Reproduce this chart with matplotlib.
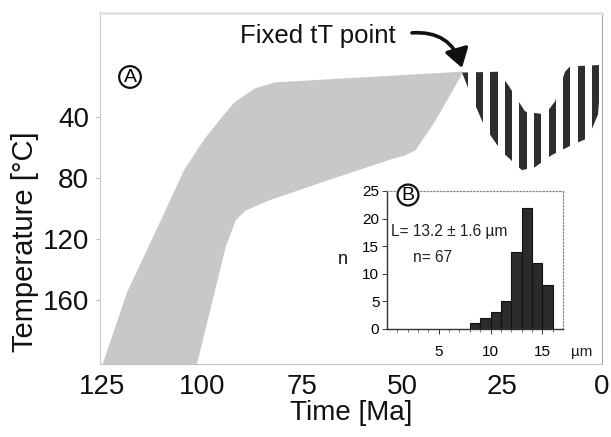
import numpy as np
import matplotlib
matplotlib.use("Agg")
import matplotlib.pyplot as plt
from matplotlib.patches import Polygon, FancyArrowPatch

# time-temperature envelope (good fits), Ma / degC
env_upper_time = [125, 118.5, 110, 104.25, 99.25, 95, 91.75, 86.75, 81.75, 35]
env_upper_temp = [205, 155, 107.5, 75, 55, 41, 31, 22, 18, 11]
env_lower_time = [35, 41.75, 46.75, 49.5, 51.75, 68.5, 83.5, 89.25, 91.75, 94.25, 101.75]
env_lower_temp = [11, 42, 61.5, 65, 66.5, 81, 94.5, 101, 107.5, 125, 205]

# post fixed point envelope (striped)
rec_upper_time = [35, 26, 23.5, 19.25, 14.25, 11.75, 9.25, 8, 0]
rec_upper_temp = [11, 10.5, 19, 36.5, 38.5, 30, 10.5, 7, 6]
rec_lower_time = [35, 32.5, 29.25, 25, 20, 16.75, 12.5, 7.5, 3.5, 1, 0]
rec_lower_temp = [11, 27.5, 47, 63, 75, 73, 65, 58.5, 54, 38.5, 6]

fixed_point = (35, 8)

# track length histogram
length_bins = [8, 9, 10, 11, 12, 13, 14, 15]
length_counts = [1, 2, 3, 5, 14, 22, 12, 8]

plt.rcParams["font.family"] = ["Liberation Sans", "DejaVu Sans"]
W, H = 611, 437

fig = plt.figure(figsize=(W / 100, H / 100), dpi=100)
ax = fig.add_axes([100 / W, 1 - 364 / H, 502 / W, 351 / H])
ax.set_xlim(125.5, 0)
ax.set_ylim(202, -28)

env = list(zip(env_upper_time, env_upper_temp)) + list(zip(env_lower_time, env_lower_temp))
ax.add_patch(Polygon(env, closed=True, facecolor="#c8c8c8", edgecolor="#c8c8c8", lw=1.2,
                     joinstyle="round"))

rec = list(zip(rec_upper_time, rec_upper_temp)) + list(zip(rec_lower_time[::-1], rec_lower_temp[::-1]))
clip = Polygon(rec, closed=True, facecolor="none", edgecolor="none")
ax.add_patch(clip)
stripes = ax.bar(np.arange(34.3, 0, -3.64), 260, bottom=-40, width=1.8, color="#2e2e2e", lw=0)
for b in stripes:
    b.set_clip_path(clip)

ax.set_xticks([125, 100, 75, 50, 25, 0])
ax.set_yticks([40, 80, 120, 160])
ax.tick_params(axis="x", length=0, pad=7, labelsize=20, labelcolor="#111111")
ax.tick_params(axis="y", length=3, width=0.8, color="#bbbbbb", pad=5, labelsize=20, labelcolor="#111111")
ax.spines["left"].set_color("#cccccc")
ax.spines["bottom"].set_color("#c0c0c0")
ax.spines["top"].set_color("#e2e2e2")
ax.spines["top"].set_linewidth(2)
ax.spines["right"].set_color("#a8a8a8")
ax.set_xlabel("Time [Ma]", fontsize=20, color="#111111", labelpad=0)
fig.text(25 / W, 1 - 242 / H, "Temperature [°C]", rotation=90, ha="center", va="center",
         fontsize=21, color="#111111")

ax.text(90.5, -13, "Fixed tT point", ha="left", va="center", fontsize=18.5, color="#111111")
arrow = FancyArrowPatch((47.5, -15), fixed_point, connectionstyle="arc3,rad=-0.4",
                        arrowstyle="-|>,head_length=0.7,head_width=0.45", mutation_scale=16,
                        lw=2.6, color="#111111", shrinkA=0, shrinkB=0)
ax.add_patch(arrow)

ax.text(130 / W, 1 - 77 / H, "A", transform=fig.transFigure, ha="center", va="center",
        fontsize=14, bbox=dict(boxstyle="circle,pad=0.12", fc="white", ec="#111111", lw=1.6))

# inset histogram
ins = fig.add_axes([387 / W, 1 - 329 / H, 176 / W, 138 / H])
ins.bar(length_bins, length_counts, width=1, align="edge", color="#2b2b2b", edgecolor="#111111", lw=0.8)
ins.set_xlim(0, 17)
ins.set_ylim(0, 25)
ins.set_xticks([5, 10, 15])
ins.set_xticks(np.arange(1, 17), minor=True)
ins.set_yticks([0, 5, 10, 15, 20, 25])
ins.tick_params(axis="both", which="major", length=3.5, width=0.7, labelsize=11, color="#333333")
ins.tick_params(axis="x", which="major", pad=8)
ins.tick_params(axis="y", which="major", pad=2)
ins.tick_params(axis="x", which="minor", length=2, width=0.6, color="#555555")
for s in ("top", "right"):
    ins.spines[s].set_linestyle(":")
    ins.spines[s].set_color("#888888")
    ins.spines[s].set_linewidth(0.9)
for s in ("left", "bottom"):
    ins.spines[s].set_color("#333333")
    ins.spines[s].set_linewidth(1)
ins.patch.set_alpha(0)

fig.text(582 / W, 1 - 352 / H, "µm", ha="center", va="center", fontsize=11, color="#222222")
fig.text(343 / W, 1 - 260 / H, "n", ha="center", va="center", fontsize=13, color="#111111")
fig.text(391 / W, 1 - 232 / H, "L= 13.2 ± 1.6 µm", ha="left", va="center", fontsize=11.2, color="#222222")
fig.text(413 / W, 1 - 257 / H, "n= 67", ha="left", va="center", fontsize=11.2, color="#222222")
fig.text(408 / W, 1 - 195 / H, "B", ha="center", va="center", fontsize=14, zorder=10,
         bbox=dict(boxstyle="circle,pad=0.1", fc="white", ec="#111111", lw=1.6))

fig.savefig("out.png", dpi=100)
